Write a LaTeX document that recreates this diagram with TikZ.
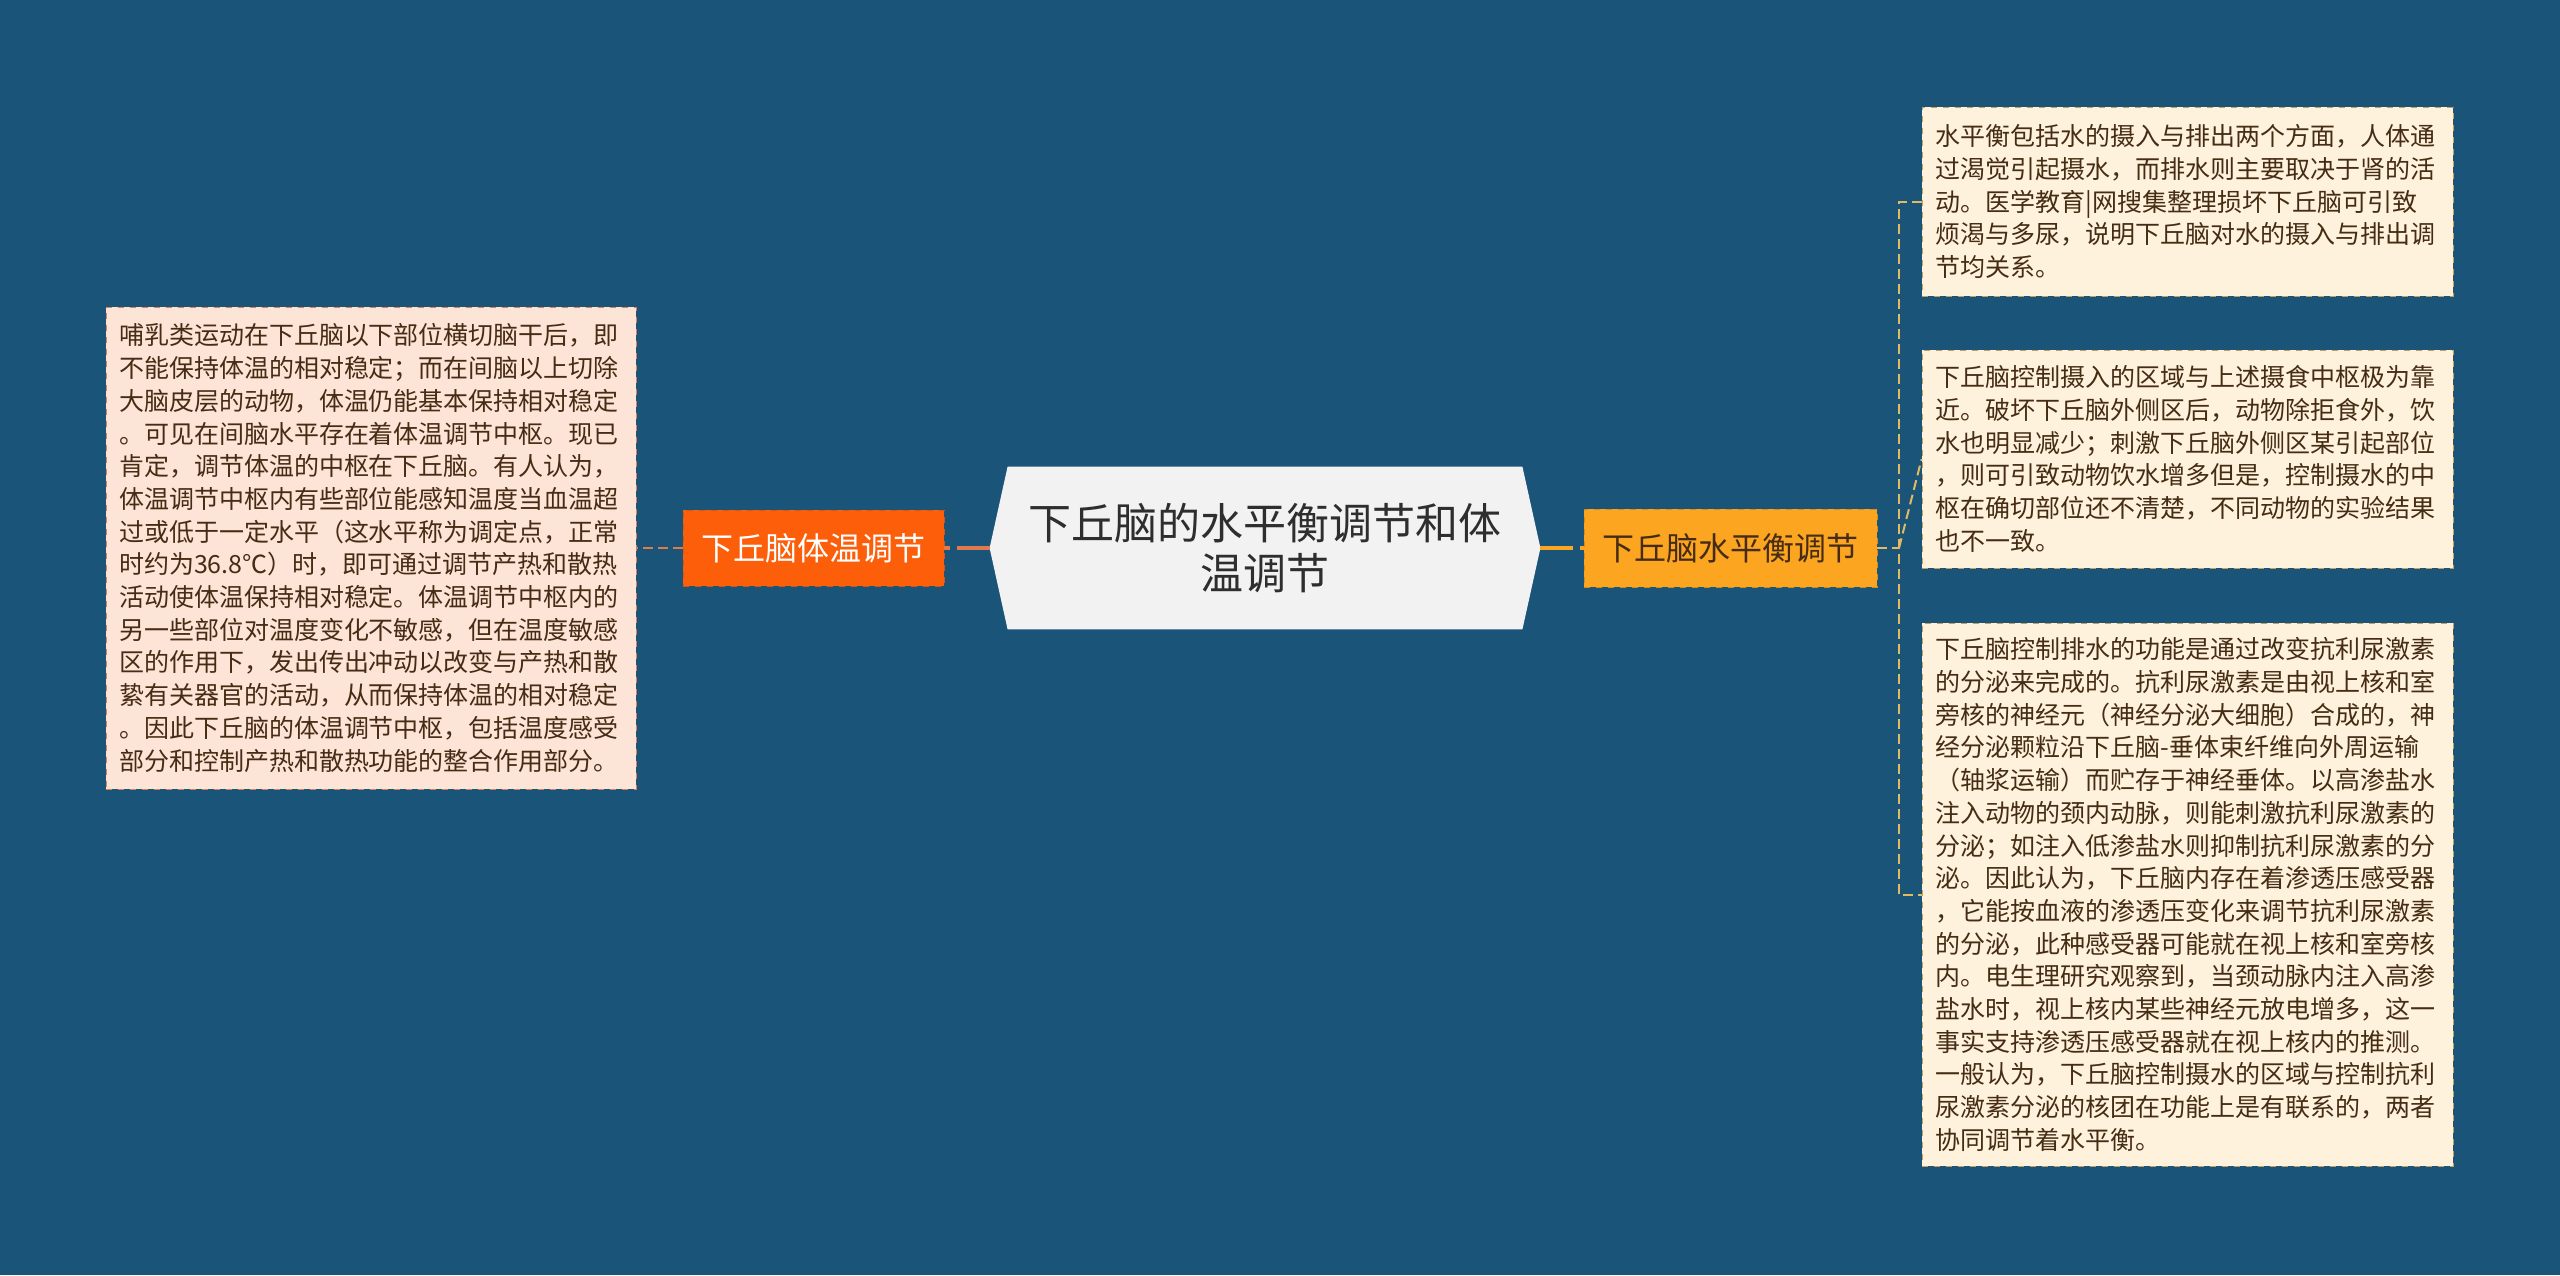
\documentclass[tikz,border=0pt]{standalone}
\usepackage{fontspec}
\newfontfamily\cjk{Noto Sans CJK SC}
\usetikzlibrary{backgrounds}
\definecolor{bgblue}{RGB}{27,84,121}
\definecolor{leftfill}{RGB}{252,228,214}
\definecolor{leftline}{RGB}{214,130,95}
\definecolor{leftlink}{RGB}{222,122,78}
\definecolor{rightfill}{RGB}{254,242,220}
\definecolor{rightline}{RGB}{196,160,92}
\definecolor{rightlink}{RGB}{226,186,98}
\definecolor{tempfill}{RGB}{252,94,10}
\definecolor{templine}{RGB}{214,84,20}
\definecolor{waterfill}{RGB}{251,165,32}
\definecolor{waterline}{RGB}{212,140,28}
\definecolor{titlefill}{RGB}{242,242,242}
\definecolor{boxtext}{RGB}{70,44,20}
\begin{document}
\begin{tikzpicture}[
	x=0.5pt, y=-0.5pt,
	every node/.style={font=\cjk},
	titlenode/.style={shape=rectangle, text=black!82, inner sep=0pt, minimum width=275pt, minimum height=81pt, align=center, font=\cjk\fontsize{21.5pt}{25pt}\selectfont},
	tempnode/.style={shape=rectangle, fill=tempfill, draw=templine, dashed, text=white, minimum width=130.5pt, minimum height=38pt, font=\cjk\fontsize{16pt}{19pt}\selectfont},
	waternode/.style={shape=rectangle, fill=waterfill, draw=waterline, dashed, text=boxtext, minimum width=146.5pt, minimum height=39pt, font=\cjk\fontsize{16pt}{19pt}\selectfont},
	leftbox/.style={shape=rectangle, fill=leftfill, draw=leftline, dashed, text=boxtext, align=left, text width=252pt, inner xsep=6.5pt, inner ysep=0pt, minimum width=265pt, font=\cjk\fontsize{12.5pt}{16.35pt}\selectfont},
	rightbox/.style={shape=rectangle, fill=rightfill, draw=rightline, dashed, text=boxtext, align=left, text width=252pt, inner xsep=6.5pt, inner ysep=0pt, minimum width=265.5pt, font=\cjk\fontsize{12.5pt}{16.35pt}\selectfont},
	thinlink/.style={line width=1pt, dash pattern=on 5pt off 2.5pt},
	thicklink/.style={line width=2pt, dash pattern=on 16.5pt off 3.5pt},
] 
\node[titlenode] (title) at (1265,548) {下丘脑的水平衡调节和体\\温调节};
\node[tempnode] (temp) at (813.5,548) {下丘脑体温调节};
\node[waternode] (water) at (1730.5,548) {下丘脑水平衡调节};

\node[leftbox, minimum height=241pt] (tempdesc) at (371,548) {哺乳类运动在下丘脑以下部位横切脑干后，即\\不能保持体温的相对稳定；而在间脑以上切除\\大脑皮层的动物，体温仍能基本保持相对稳定\\。可见在间脑水平存在着体温调节中枢。现已\\肯定，调节体温的中枢在下丘脑。有人认为，\\体温调节中枢内有些部位能感知温度当血温超\\过或低于一定水平（这水平称为调定点，正常\\时约为36.8℃）时，即可通过调节产热和散热\\活动使体温保持相对稳定。体温调节中枢内的\\另一些部位对温度变化不敏感，但在温度敏感\\区的作用下，发出传出冲动以改变与产热和散\\絷有关器官的活动，从而保持体温的相对稳定\\。因此下丘脑的体温调节中枢，包括温度感受\\部分和控制产热和散热功能的整合作用部分。};

\node[rightbox, minimum height=94.5pt] (intake) at (2187.5,201.5) {水平衡包括水的摄入与排出两个方面，人体通\\过渴觉引起摄水，而排水则主要取决于肾的活\\动。医学教育|网搜集整理损坏下丘脑可引致\\烦渴与多尿，说明下丘脑对水的摄入与排出调\\节均关系。};
\node[rightbox, minimum height=109pt] (drink) at (2187.5,459) {下丘脑控制摄入的区域与上述摄食中枢极为靠\\近。破坏下丘脑外侧区后，动物除拒食外，饮\\水也明显减少；刺激下丘脑外侧区某引起部位\\，则可引致动物饮水增多但是，控制摄水的中\\枢在确切部位还不清楚，不同动物的实验结果\\也不一致。};
\node[rightbox, minimum height=271.5pt] (output) at (2187.5,894.5) {下丘脑控制排水的功能是通过改变抗利尿激素\\的分泌来完成的。抗利尿激素是由视上核和室\\旁核的神经元（神经分泌大细胞）合成的，神\\经分泌颗粒沿下丘脑-垂体束纤维向外周运输\\（轴浆运输）而贮存于神经垂体。以高渗盐水\\注入动物的颈内动脉，则能刺激抗利尿激素的\\分泌；如注入低渗盐水则抑制抗利尿激素的分\\泌。因此认为，下丘脑内存在着渗透压感受器\\，它能按血液的渗透压变化来调节抗利尿激素\\的分泌，此种感受器可能就在视上核和室旁核\\内。电生理研究观察到，当颈动脉内注入高渗\\盐水时，视上核内某些神经元放电增多，这一\\事实支持渗透压感受器就在视上核内的推测。\\一般认为，下丘脑控制摄水的区域与控制抗利\\尿激素分泌的核团在功能上是有联系的，两者\\协同调节着水平衡。};

\begin{scope}[on background layer]
\fill[bgblue] (0,0) rectangle (2560,1275);
\fill[titlefill] ([xshift=9pt]title.north west) -- ([xshift=-9pt]title.north east) -- (title.east) -- ([xshift=-9pt]title.south east) -- ([xshift=9pt]title.south west) -- (title.west) -- cycle;
\end{scope}

\coordinate (fork) at (1899,548);

\draw[thicklink, leftlink] (title.west) -- (temp.east);
\draw[thinlink, leftlink] (temp.west) -- (tempdesc.east);
\draw[thicklink, waterfill] (title.east) -- (water.west);
\draw[thinlink, rightlink] (water.east) -- (fork);
\draw[thinlink, rightlink] (intake.west) -| (fork) |- (output.west);
\draw[thinlink, rightlink] (fork) -- (drink.west);
\end{tikzpicture}
\end{document}
